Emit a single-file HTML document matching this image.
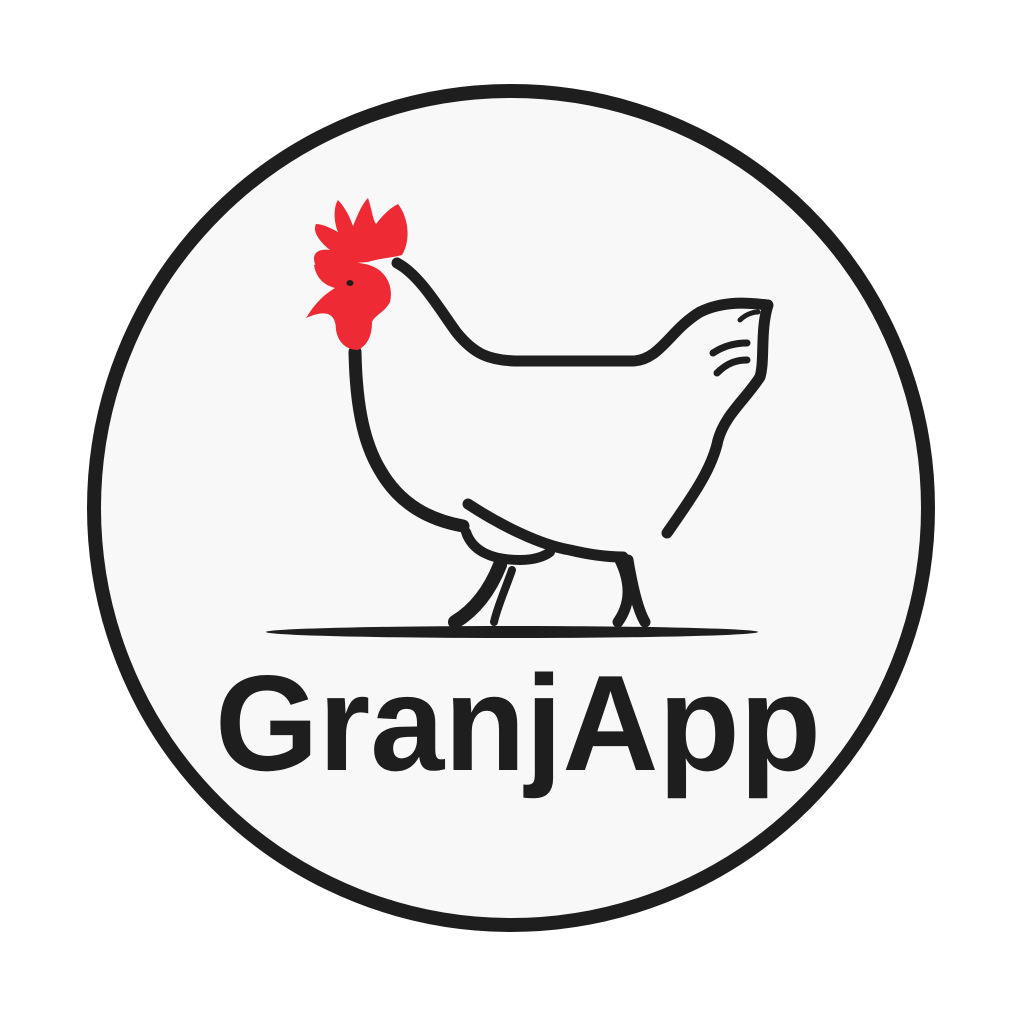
<!DOCTYPE html>
<html><head><meta charset="utf-8"><style>html,body{margin:0;padding:0;background:#fff}svg{display:block}</style></head>
<body>
<svg width="1024" height="1024" viewBox="0 0 1024 1024">
<rect width="1024" height="1024" fill="#ffffff"/>
<circle cx="511" cy="508" r="417" fill="#f8f8f8" stroke="#1e1e1e" stroke-width="14"/>
<g fill="none" stroke="#1e1e1e" stroke-linecap="round" stroke-linejoin="round">
<path d="M397 263 C420 275 440 310 457 333 C475 355 490 360 515 361 L633 361 C660 360 670 330 700 312 C725 300 750 303 768 305 C760 330 765 360 760 377 C745 400 725 415 718 440 C712 470 690 500 667 533" stroke-width="11"/>
<path d="M355 352 C356 400 362 440 380 470 C400 505 430 520 463 526" stroke-width="13"/>
<path d="M468 504 C500 525 540 545 570 550 C595 556 610 557 623 557" stroke-width="11"/>
<path d="M713 353 C725 345 738 343 747 343" stroke-width="7"/>
<path d="M717 373 C728 362 738 360 747 360" stroke-width="7"/>
<path d="M740 320 C745 315 752 312 758 312" stroke-width="5"/>
<path d="M466 532 C472 550 490 560 520 560 C535 560 545 556 550 552" stroke-width="10"/>
<path d="M500 565 C490 590 475 610 455 622" stroke-width="14"/>
<path d="M512 570 C505 590 497 608 494 622" stroke-width="8"/>
<path d="M620 560 C632 585 630 605 618 622 M628 560 C633 590 638 610 645 622" stroke-width="11"/>
</g>
<ellipse cx="512" cy="632" rx="246" ry="6" fill="#1e1e1e"/>
<g fill="#ee2b35">
<path d="M316 266 C310 254 318 248 330 250 C320 242 312 232 316 224 C324 224 334 230 338 232 C333 220 334 206 338 200 C347 210 350 218 353 226 C358 214 362 204 368 198 C372 210 373 220 376 224 C382 216 390 208 398 204 C410 220 410 242 402 255 C392 258 380 258 368 262 Z"/>
<path d="M314 265 C330 260 345 260 365 264 C385 268 394 285 390 302 C385 312 375 315 372 322 C372 335 368 345 358 350 C346 350 338 342 336 330 C336 315 328 308 306 318 C316 302 325 294 335 288 C324 285 316 278 314 265 Z"/>
</g>
<ellipse cx="350" cy="283" rx="3.5" ry="3" fill="#1e1e1e"/>
<text x="518" y="770" text-anchor="middle" font-family="'Liberation Sans', sans-serif" font-weight="bold" font-size="136" fill="#1e1e1e" textLength="606" lengthAdjust="spacingAndGlyphs">GranjApp</text>
</svg>
</body></html>
